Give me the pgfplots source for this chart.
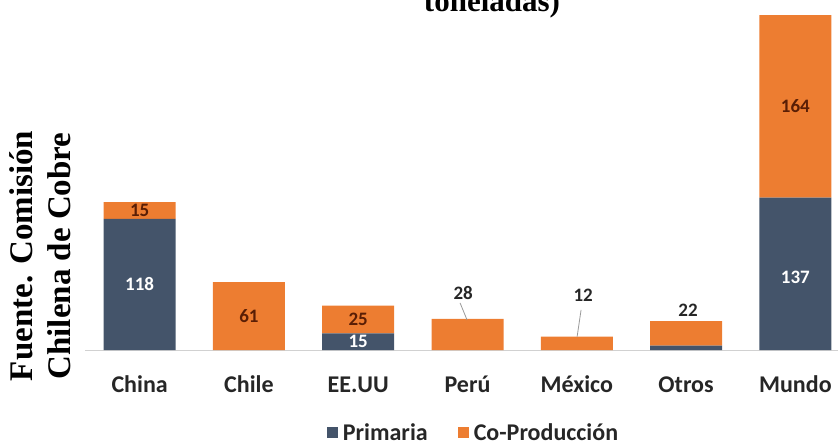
\documentclass[border=0pt]{standalone}
\usepackage{graphicx}
\usepackage{pgfplots}
\pgfplotsset{compat=1.18}
\usepackage{fontspec}
\setmainfont{Carlito}
\newfontfamily\tnr{Liberation Serif}
\definecolor{prim}{HTML}{44546A}
\definecolor{cop}{HTML}{ED7D31}
\definecolor{lab}{HTML}{5A1E05}
\definecolor{outl}{HTML}{262626}
\tikzset{dl/.style={font=\fontsize{19}{21}\selectfont\bfseries}}
\begin{document}
\begin{tikzpicture}
\useasboundingbox (0,0) rectangle (838pt,445pt);
\begin{axis}[
  at={(85pt,95pt)}, anchor=south west,
  scale only axis, width=753pt, height=350pt,
  xmin=-0.5, xmax=6.39, ymin=0, ymax=314.7,
  ybar stacked, bar width=72pt,
  axis x line=bottom, axis y line=none,
  x axis line style={-, draw=black!18, line width=1pt},
  xtick={0,1,2,3,4,5,6},
  xticklabels={China,Chile,EE.UU,Perú,México,Otros,Mundo},
  major tick length=0pt,
  xticklabel style={font=\fontsize{24}{28}\selectfont\bfseries, text=outl, anchor=base, yshift=-42pt},
  legend style={at={(0.516,-0.236)}, anchor=center, draw=none, fill=none,
    legend columns=2, font=\fontsize{24}{28}\selectfont\bfseries, text=outl,
    /tikz/every even column/.append style={column sep=28pt},
    /tikz/every odd column/.append style={column sep=3pt}},
  legend image code/.code={\fill[#1,draw=none] (0pt,-5.5pt) rectangle (11pt,5.5pt);},
  clip=false,
]
\addplot[fill=prim, draw=none] coordinates {(0,118) (1,0) (2,15) (3,0) (4,0) (5,4) (6,137)};
\addplot[fill=cop, draw=none] coordinates {(0,15) (1,61) (2,25) (3,28) (4,12) (5,22) (6,164)};
\legend{Primaria,Co-Producción}
\coordinate (l1) at (axis cs:0,59);
\coordinate (l2) at (axis cs:0,125.5);
\coordinate (l3) at (axis cs:1,30.5);
\coordinate (l4) at (axis cs:2,27.5);
\coordinate (l5) at (axis cs:2,7.5);
\coordinate (l6) at (axis cs:2.96,51.3);
\coordinate (p1) at (axis cs:2.932,42.3);
\coordinate (p2) at (axis cs:2.996,27);
\coordinate (l7) at (axis cs:4.058,49.5);
\coordinate (m1) at (axis cs:4.039,36);
\coordinate (m2) at (axis cs:4.003,12);
\coordinate (l8) at (axis cs:5.018,36);
\coordinate (l9) at (axis cs:6,219);
\coordinate (l10) at (axis cs:6,65);
\end{axis}
\node[dl,text=white] at (l1) {118};
\node[dl,text=lab] at (l2) {15};
\node[dl,text=lab] at (l3) {61};
\node[dl,text=lab] at (l4) {25};
\node[dl,text=white] at (l5) {15};
\node[dl,text=outl] at (l6) {28};
\draw[black!40, line width=0.8pt] (p1) -- (p2);
\node[dl,text=outl] at (l7) {12};
\draw[black!40, line width=0.8pt] (m1) -- (m2);
\node[dl,text=outl] at (l8) {22};
\node[dl,text=lab] at (l9) {164};
\node[dl,text=white] at (l10) {137};
\node[font=\tnr\bfseries\fontsize{31}{36}\selectfont, anchor=base] at (492pt,433pt) {toneladas)};
\node[rotate=90, font=\tnr\bfseries\fontsize{33}{38}\selectfont, inner sep=0pt] at (44pt,189pt)
  {\begin{tabular}{@{}c@{}}Fuente. Comisión\\Chilena de Cobre\end{tabular}};
\end{tikzpicture}
\end{document}
